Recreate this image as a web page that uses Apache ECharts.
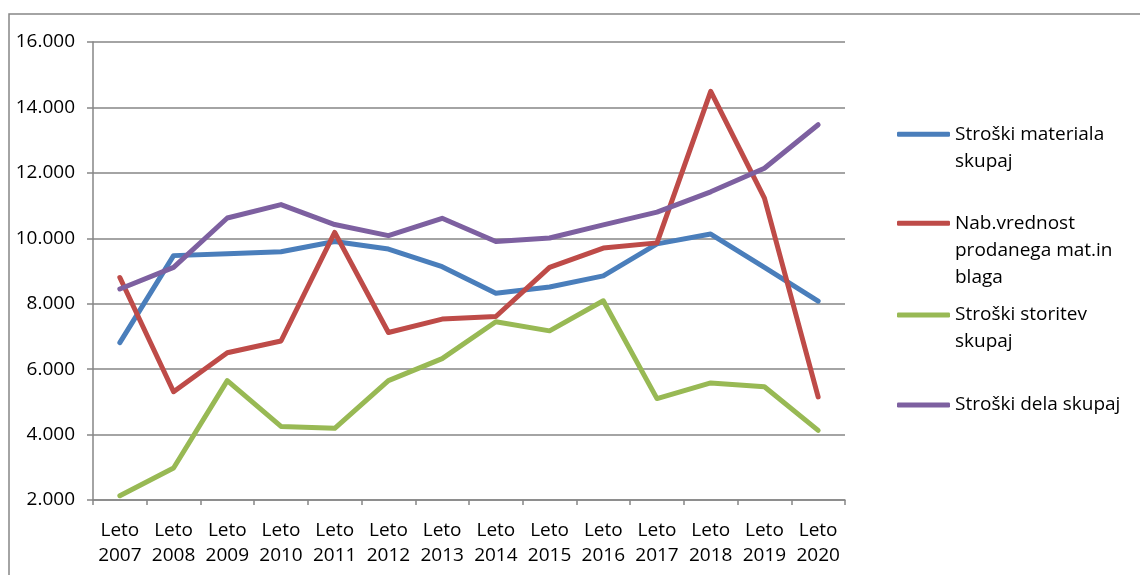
<!DOCTYPE html>
<html>
<head>
<meta charset="utf-8">
<script src="https://cdn.jsdelivr.net/npm/echarts@6/dist/echarts.min.js"></script>
<style>
html,body{margin:0;padding:0;background:#fff;}
#chart{width:1140px;height:575px;}
</style>
</head>
<body>
<div id="chart"></div>
<script>
const categories = ['Leto 2007','Leto 2008','Leto 2009','Leto 2010','Leto 2011','Leto 2012','Leto 2013','Leto 2014','Leto 2015','Leto 2016','Leto 2017','Leto 2018','Leto 2019','Leto 2020'];
const seriesNames = ['Stroški materiala skupaj','Nab.vrednost prodanega mat.in blaga','Stroški storitev skupaj','Stroški dela skupaj'];
const legendLabels = ['Stroški materiala\nskupaj','Nab.vrednost\nprodanega mat.in\nblaga','Stroški storitev\nskupaj','Stroški dela skupaj'];
const materiala = [6810,9470,9530,9590,9900,9670,9130,8320,8510,8850,9830,10130,9110,8080];
const nabavna = [8800,5310,6500,6860,10180,7120,7530,7610,9110,9700,9860,14490,11230,5150];
const storitve = [2130,2980,5650,4250,4190,5650,6320,7450,7170,8090,5100,5580,5460,4130];
const dela = [8450,9110,10620,11030,10420,10080,10610,9900,10010,10410,10800,11420,12140,13470];
const yTicks = {min:2000, max:16000, interval:2000};
const colors = ['#4A7EBB','#BE4B48','#98B954','#7D60A0'];

const seriesData = [materiala, nabavna, storitve, dela];
const FONT = 'Open Sans';
const LH = 27;
const legendIconY = [134.3, 223.3, 315, 405];

const legends = seriesNames.map((name, i) => {
  const n = legendLabels[i].split('\n').length;
  return {
    data: [name],
    orient: 'vertical',
    left: 897,
    top: legendIconY[i] - (2*n-1)*LH/2,
    padding: 0,
    icon: 'roundRect',
    itemWidth: 53,
    itemHeight: 5,
    itemGap: 0,
    selectedMode: false,
    formatter: () => '\n'.repeat(n-1) + legendLabels[i],
    textStyle: {
      fontFamily: FONT, fontSize: 19, color: '#000', lineHeight: LH
    }
  };
});

const chart = echarts.init(document.getElementById('chart'), null, {renderer:'canvas'});
chart.setOption({
  animation: false,
  backgroundColor: '#fff',
  graphic: [{
    type: 'rect', z: -10, silent: true,
    shape: {x: 9, y: 14, width: 2000, height: 2000},
    style: {fill: 'none', stroke: '#868686', lineWidth: 1.5}
  }],
  grid: {left: 93, right: 295, top: 42, bottom: 75, containLabel: false},
  legend: legends,
  xAxis: {
    type: 'category',
    data: categories,
    boundaryGap: true,
    axisLine: {show: true, lineStyle: {color: '#868686', width: 1.5}},
    axisTick: {show: true, length: 5, interval: 0, alignWithLabel: false, lineStyle: {color: '#868686', width: 1.5}},
    axisLabel: {
      interval: 0, margin: 18, color: '#000', fontFamily: FONT, fontSize: 19, lineHeight: 25,
      formatter: v => v.replace(' ', '\n')
    },
    splitLine: {show: false}
  },
  yAxis: {
    type: 'value',
    min: yTicks.min, max: yTicks.max, interval: yTicks.interval,
    axisLine: {show: true, lineStyle: {color: '#868686', width: 1.5}},
    axisTick: {show: true, length: 6, lineStyle: {color: '#868686', width: 1.5}},
    axisLabel: {
      margin: 18, color: '#000', fontFamily: FONT, fontSize: 19,
      formatter: v => String(v).replace(/\B(?=(\d{3})+(?!\d))/g, '.')
    },
    splitLine: {show: true, lineStyle: {color: '#868686', width: 1.5}}
  },
  series: seriesNames.map((name, i) => ({
    name: name,
    type: 'line',
    data: seriesData[i],
    symbol: 'none',
    smooth: false,
    color: colors[i],
    lineStyle: {width: 5, color: colors[i], cap: 'round', join: 'round'},
    itemStyle: {color: colors[i]}
  }))
});
</script>
</body>
</html>
